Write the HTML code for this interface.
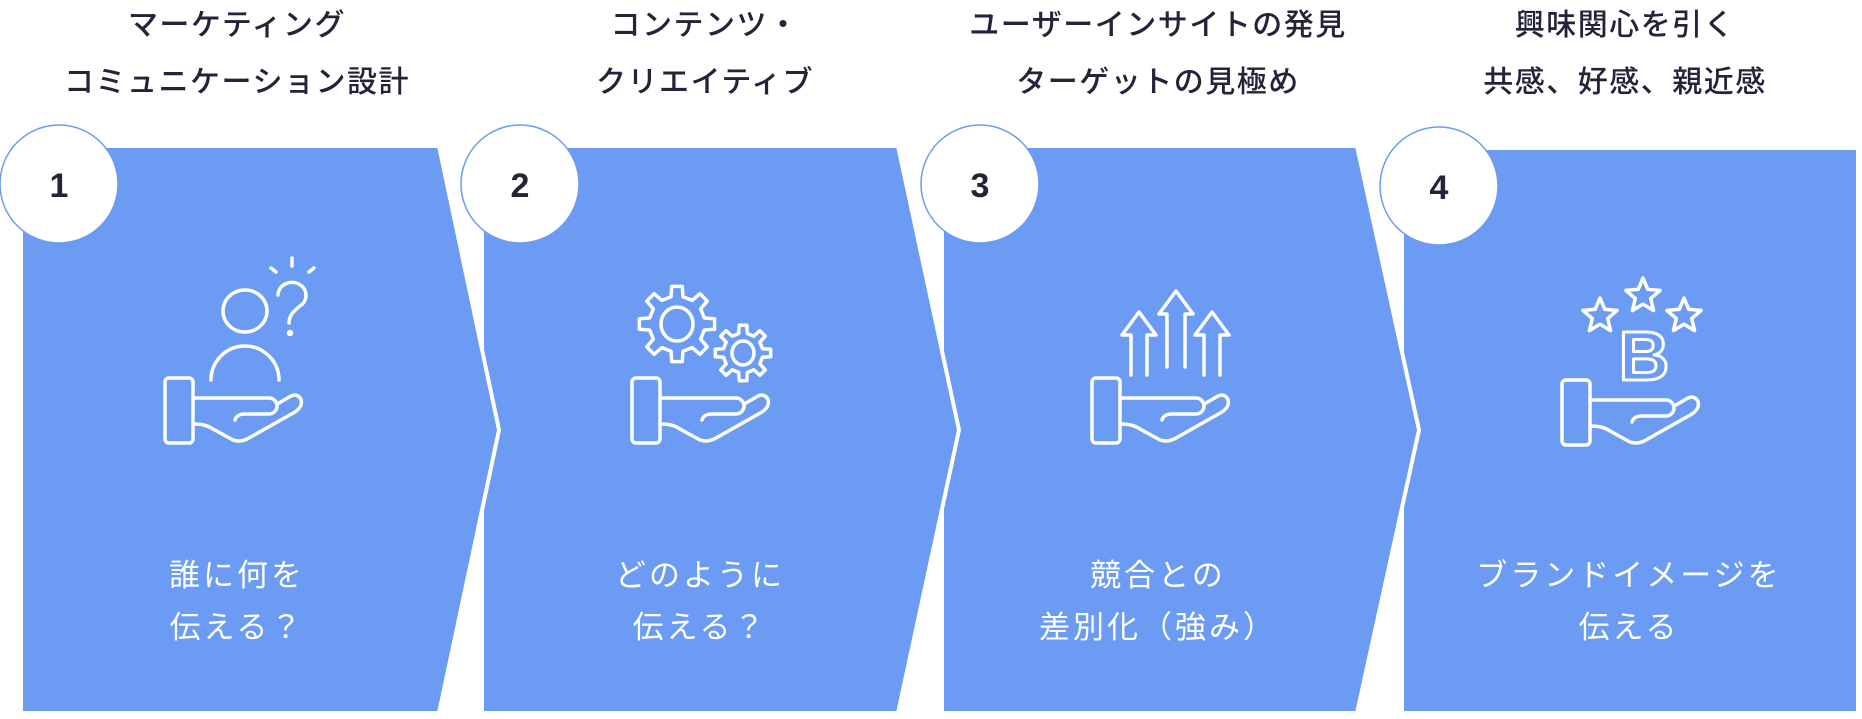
<!DOCTYPE html>
<html><head><meta charset="utf-8">
<style>
html,body{margin:0;padding:0;background:#fff;}
body{width:1862px;height:719px;position:relative;overflow:hidden;font-family:"Liberation Sans","Noto Sans CJK JP",sans-serif;}
.t{position:absolute;text-align:center;font-size:30px;line-height:57px;color:#23233a;font-weight:500;letter-spacing:1.5px;white-space:nowrap;transform:translateX(-50%);}
.b{position:absolute;text-align:center;font-size:31px;line-height:52px;color:#fff;letter-spacing:3px;white-space:nowrap;transform:translateX(-50%);}
svg{position:absolute;left:0;top:0;}
</style></head><body>
<svg width="1862" height="719" viewBox="0 0 1862 719">
 <g fill="#6b9bf3" stroke="#fff" stroke-width="4" stroke-linejoin="miter">
  <polygon points="1402,148 1858,148 1858,713 1402,713"/>
  <polygon points="942,146 1357,146 1419,430 1357,713 942,713"/>
  <polygon points="482,146 898,146 959,430 898,713 482,713"/>
  <polygon points="21,146 439,146 499,430 439,713 21,713"/>
 </g>
 <g fill="#fff" stroke="#6b9bf3" stroke-width="1.5">
  <circle cx="59" cy="184" r="59"/>
  <circle cx="520" cy="184" r="59"/>
  <circle cx="980" cy="184" r="59"/>
  <circle cx="1439" cy="186" r="59"/>
 </g>
 <g font-family="Liberation Sans, sans-serif" font-size="34" font-weight="bold" fill="#23233a" text-anchor="middle">
  <text x="59" y="197">1</text><text x="520" y="197">2</text><text x="980" y="197">3</text><text x="1439" y="199">4</text>
 </g>
 <defs>
  <g id="hand" fill="none" stroke="#fff" stroke-width="3.5" stroke-linecap="round" stroke-linejoin="round">
   <rect x="0" y="0" width="28" height="65" rx="4"/>
   <path d="M28,20 H104 a8,8 0 0 1 0,16 H80 c-5,0 -9,2 -10,6"/>
   <path d="M114,25 L126,18 c6,-3 12,2 10,9 c-1,3 -3,5 -6,7 L84,60 c-5,3 -10,4 -16,2 L48,51 c-6,-4 -12,-5 -20,-5"/>
  </g>
 </defs>
 <g fill="none" stroke="#fff" stroke-width="3.5" stroke-linecap="round" stroke-linejoin="round">
  <g transform="translate(165,378)">
   <use href="#hand"/>
   <ellipse cx="80" cy="-67" rx="22" ry="21"/>
   <path d="M46,2 a34,34 0 0 1 68,0"/>
   <path d="M113,-83 a14,13 0 1 1 22,11 c-6,5 -11,9 -11,17"/>
   <circle cx="125" cy="-45" r="1.5" fill="#fff"/>
   <path d="M127,-120 v8 M106,-110 l5,4 M149,-110 l-5,4"/>
  </g>
  <g transform="translate(632,378)">
   <use href="#hand"/>
   <path id="g1" d=""/>
   <ellipse cx="45" cy="-54" rx="16" ry="17"/>
   <path id="g2" d=""/>
   <ellipse cx="111" cy="-25" rx="11" ry="12"/>
  </g>
  <g transform="translate(1092,378)">
   <use href="#hand"/>
   <path d="M39,-3 V-43 H30 L47,-66 L64,-43 H55 V-3"/>
   <path d="M75,-11 V-64 H67 L84,-87 L101,-64 H93 V-11"/>
   <path d="M112,-3 V-43 H103 L120,-66 L137,-43 H128 V-3"/>
  </g>
  <g transform="translate(1562,380)">
   <use href="#hand"/>
   <path id="s1" d=""/><path id="s2" d=""/><path id="s3" d=""/>
   <text x="82" y="0" font-family="Liberation Sans, sans-serif" font-size="70" font-weight="bold" text-anchor="middle" stroke-width="3" fill="none">B</text>
  </g>
 </g>
</svg>
<script>
function gear(cx,cy,ro,ri,n){var p=[];for(var i=0;i<n;i++){var a=i*2*Math.PI/n,w=Math.PI/n;var ang=[a-w*0.55,a-w*0.35,a+w*0.35,a+w*0.55];var rs=[ri,ro,ro,ri];for(var k=0;k<4;k++){p.push((cx+rs[k]*Math.cos(ang[k])).toFixed(1)+","+(cy+rs[k]*Math.sin(ang[k])).toFixed(1));}}return "M"+p.join(" L")+"Z";}
function star(cx,cy,r){var p=[];for(var i=0;i<10;i++){var a=-Math.PI/2+i*Math.PI/5,rr=i%2?r*0.45:r;p.push((cx+rr*Math.cos(a)).toFixed(1)+","+(cy+rr*Math.sin(a)).toFixed(1));}return "M"+p.join(" L")+"Z";}
document.getElementById("g1").setAttribute("d",gear(45,-54,38,28,8));
document.getElementById("g2").setAttribute("d",gear(111,-25,28,20,8));
document.getElementById("s1").setAttribute("d",star(38,-64,18));
document.getElementById("s2").setAttribute("d",star(81,-84,18));
document.getElementById("s3").setAttribute("d",star(122,-64,18));
</script>
<div class="t" style="left:237px;top:-3px">マーケティング<br>コミュニケーション設計</div>
<div class="t" style="left:705px;top:-3px">コンテンツ・<br>クリエイティブ</div>
<div class="t" style="left:1158px;top:-3px">ユーザーインサイトの発見<br>ターゲットの見極め</div>
<div class="t" style="left:1625px;top:-3px">興味関心を引く<br>共感、好感、親近感</div>
<div class="b" style="left:237px;top:550px">誰に何を<br>伝える？</div>
<div class="b" style="left:700px;top:550px">どのように<br>伝える？</div>
<div class="b" style="left:1158px;top:550px">競合との<br>差別化（強み）</div>
<div class="b" style="left:1629px;top:550px">ブランドイメージを<br>伝える</div>
</body></html>
